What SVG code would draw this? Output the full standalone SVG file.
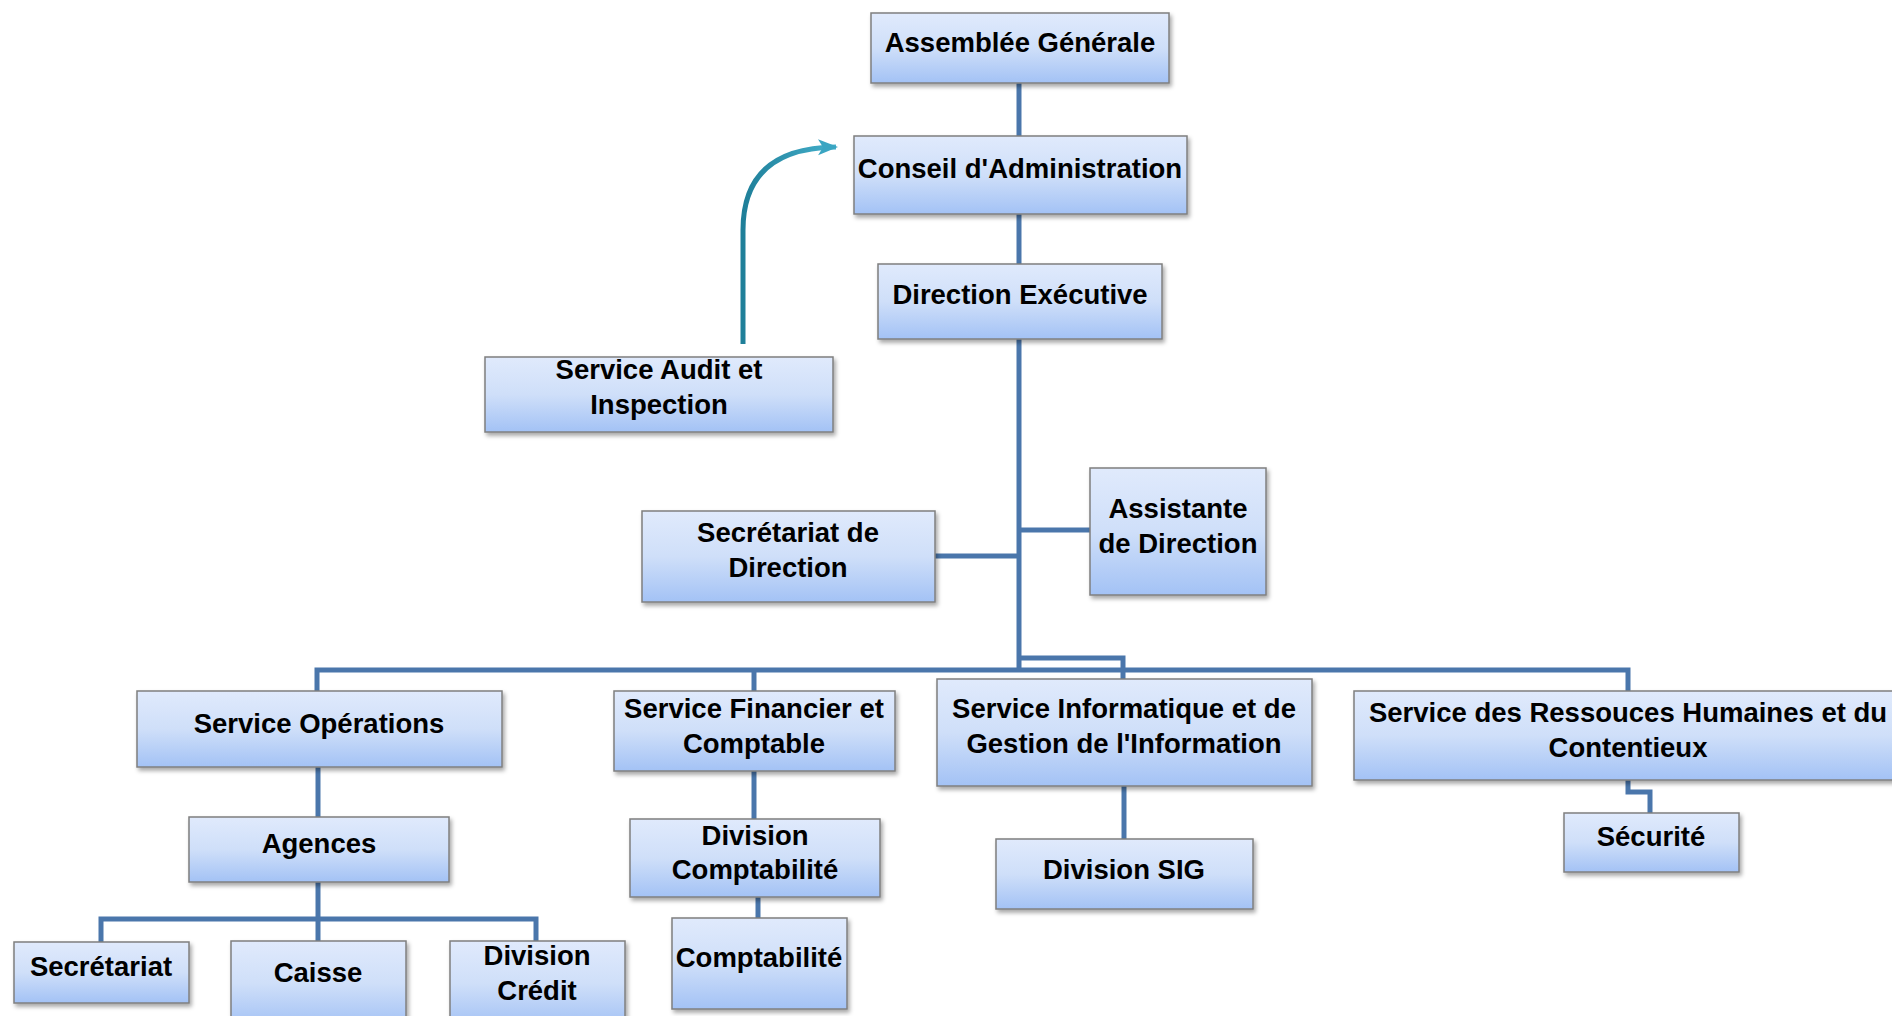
<svg xmlns="http://www.w3.org/2000/svg" width="1892" height="1016" viewBox="0 0 1892 1016">
<defs>
<linearGradient id="g" x1="0" y1="0" x2="0" y2="1">
<stop offset="0" stop-color="#e0eafc"/>
<stop offset="0.5" stop-color="#cfdff9"/>
<stop offset="1" stop-color="#a3c2f5"/>
</linearGradient>
<linearGradient id="ag" x1="0" y1="0" x2="1" y2="0">
<stop offset="0" stop-color="#1f7f99"/>
<stop offset="1" stop-color="#44b0cc"/>
</linearGradient>
<filter id="sh" x="-10%" y="-10%" width="130%" height="140%">
<feDropShadow dx="2" dy="3" stdDeviation="2" flood-color="#000" flood-opacity="0.35"/>
</filter>
<marker id="ah" viewBox="0 0 10 10" refX="9" refY="5" markerWidth="4" markerHeight="4" orient="auto" markerUnits="strokeWidth">
<path d="M0,1 L10,5 L0,9 L2.5,5 Z" fill="#3aa5c2"/>
</marker>
</defs>
<style>
.box{fill:url(#g);stroke:#7f7f7f;stroke-width:1.5;filter:url(#sh)}
.t{font-family:"Liberation Sans",Arial,sans-serif;font-weight:bold;font-size:27.5px;fill:#000;text-anchor:middle}
.c{fill:none;stroke:#4a76ab;stroke-width:5}
</style>
<rect width="1892" height="1016" fill="#fff"/>
<g id="connectors">
<path class="c" d="M1019,83 V136"/>
<path class="c" d="M1019,214 V264"/>
<path class="c" d="M1019,339 V670"/>
<path class="c" d="M1019,530 H1090"/>
<path class="c" d="M935,556 H1019"/>
<path class="c" d="M317,691 V670 H1628 V691"/>
<path class="c" d="M754,670 V691"/>
<path class="c" d="M1019,658 H1123 V679"/>
<path class="c" d="M318,767 V817"/>
<path class="c" d="M318,882 V919"/>
<path class="c" d="M101,942 V919 H536 V942"/>
<path class="c" d="M318,919 V942"/>
<path class="c" d="M754,771 V819"/>
<path class="c" d="M758,897 V918"/>
<path class="c" d="M1124,786 V839"/>
<path class="c" d="M1628,780 V792 H1650 V813"/>
<path d="M743,344 V230 Q743,148 836,147" fill="none" stroke="url(#ag)" stroke-width="5" marker-end="url(#ah)"/>
</g>
<g id="n-assemblee"><rect class="box" x="871" y="13" width="298" height="70"/><text class="t" x="1020" y="52">Assemblée Générale</text></g>
<g id="n-conseil"><rect class="box" x="854" y="136" width="333" height="78"/><text class="t" x="1020" y="178">Conseil d'Administration</text></g>
<g id="n-direction"><rect class="box" x="878" y="264" width="284" height="75"/><text class="t" x="1020" y="304">Direction Exécutive</text></g>
<g id="n-audit"><rect class="box" x="485" y="357" width="348" height="75"/><text class="t" x="659" y="379">Service Audit et</text><text class="t" x="659" y="414">Inspection</text></g>
<g id="n-secdir"><rect class="box" x="642" y="511" width="293" height="91"/><text class="t" x="788" y="542">Secrétariat de</text><text class="t" x="788" y="577">Direction</text></g>
<g id="n-assistante"><rect class="box" x="1090" y="468" width="176" height="127"/><text class="t" x="1178" y="518">Assistante</text><text class="t" x="1178" y="553">de Direction</text></g>
<g id="n-operations"><rect class="box" x="137" y="691" width="365" height="76"/><text class="t" x="319" y="733">Service Opérations</text></g>
<g id="n-financier"><rect class="box" x="614" y="691" width="281" height="80"/><text class="t" x="754" y="718">Service Financier et</text><text class="t" x="754" y="753">Comptable</text></g>
<g id="n-informatique"><rect class="box" x="937" y="679" width="375" height="107"/><text class="t" x="1124" y="718">Service Informatique et de</text><text class="t" x="1124" y="753">Gestion de l'Information</text></g>
<g id="n-rh"><rect class="box" x="1354" y="691" width="560" height="89"/><text class="t" x="1628" y="722">Service des Ressouces Humaines et du</text><text class="t" x="1628" y="757">Contentieux</text></g>
<g id="n-agences"><rect class="box" x="189" y="817" width="260" height="65"/><text class="t" x="319" y="853">Agences</text></g>
<g id="n-divcompta"><rect class="box" x="630" y="819" width="250" height="78"/><text class="t" x="755" y="845">Division</text><text class="t" x="755" y="879">Comptabilité</text></g>
<g id="n-sig"><rect class="box" x="996" y="839" width="257" height="70"/><text class="t" x="1124" y="879">Division SIG</text></g>
<g id="n-securite"><rect class="box" x="1564" y="813" width="175" height="59"/><text class="t" x="1651" y="846">Sécurité</text></g>
<g id="n-secretariat"><rect class="box" x="14" y="942" width="175" height="61"/><text class="t" x="101" y="976">Secrétariat</text></g>
<g id="n-caisse"><rect class="box" x="231" y="941" width="175" height="85"/><text class="t" x="318" y="982">Caisse</text></g>
<g id="n-credit"><rect class="box" x="450" y="941" width="175" height="85"/><text class="t" x="537" y="965">Division</text><text class="t" x="537" y="1000">Crédit</text></g>
<g id="n-comptabilite"><rect class="box" x="672" y="918" width="175" height="91"/><text class="t" x="759" y="967">Comptabilité</text></g>
</svg>
